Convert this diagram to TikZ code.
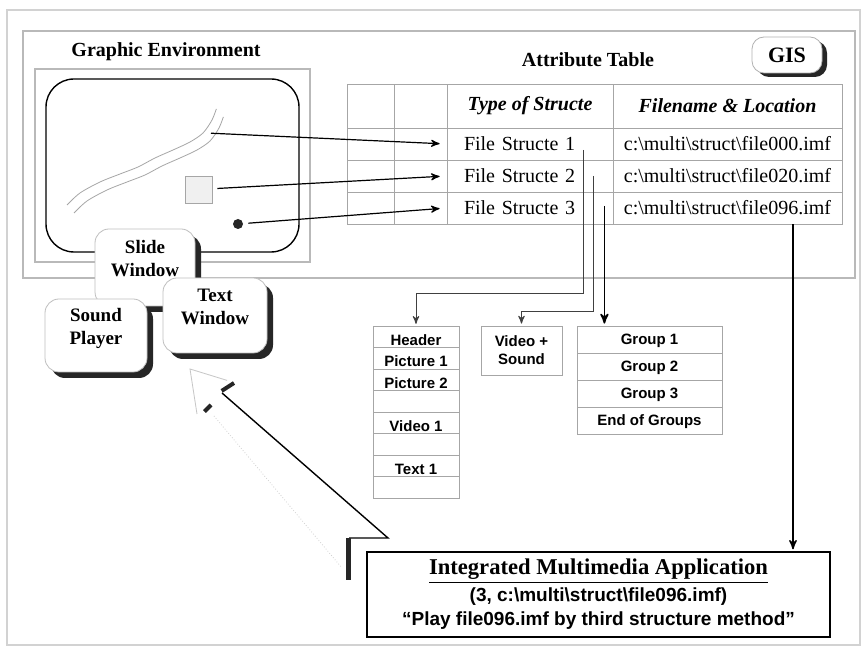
\documentclass[tikz,border=0pt]{standalone}
\usepackage{fontspec}
\setmainfont{Liberation Serif}
\setsansfont{Liberation Sans}
\usetikzlibrary{arrows,shadows}
\newcommand{\bksl}{\textbackslash}
\newcommand{\wintext}[2]{\raisebox{3.5pt}[\height][\depth]{\begin{tabular}{@{}c@{}}#1\\#2\end{tabular}}\hspace{5pt}}

\begin{document}
\begin{tikzpicture}[x=0.5pt,y=-0.5pt,>=stealth',shorten >=1pt,
	frame/.style={draw=gray!55,line width=0.6pt},
	cell/.style={draw=gray!70,inner sep=0pt,font=\fontsize{10}{12}\selectfont},
	hdcell/.style={cell,minimum height=22pt,font=\bfseries\itshape\fontsize{10}{12}\selectfont},
	win/.style={draw=gray!50,fill=white,rounded corners=7pt,inner sep=0pt,
		drop shadow={shadow xshift=3pt,shadow yshift=-3pt,fill=black!85,opacity=1},
		font=\bfseries\fontsize{9.5}{11.5}\selectfont},
	rec/.style={draw=gray!70,inner sep=0pt,minimum width=43pt,minimum height=10.75pt,
		node distance=10.75pt,text height=8.5pt,text depth=0pt,
		font=\sffamily\bfseries\fontsize{7.5}{9}\selectfont},
	grp/.style={rec,minimum width=72.5pt,minimum height=13.5pt,node distance=13.5pt,text height=5.5pt},
	link/.style={->,shorten >=3.5pt,shorten <=2.5pt,line width=0.6pt}]

\path[fill=white,use as bounding box] (0,0) rectangle (868,656);

% frames
\draw[frame,draw=gray!35] (7,10) rectangle (860,645);
\draw[frame] (23,31) rectangle (855,278);
\draw[frame] (35,69) rectangle (310,262);
\draw[line width=0.7pt,rounded corners=14pt] (46,79) rectangle (299,252);

\node[font=\bfseries\fontsize{10}{12}\selectfont] (ge) at (166,52) {Graphic Environment};
\node[font=\bfseries\fontsize{10}{12}\selectfont] (at) at (588,60) {Attribute Table};
\node[draw=gray!60,fill=white,rounded corners=6pt,minimum width=35pt,minimum height=18pt,
	drop shadow={shadow xshift=2.5pt,shadow yshift=-2pt,fill=black!85,opacity=1},
	font=\bfseries\fontsize{11}{13}\selectfont] (gis) at (787,55) {GIS};

% map objects
\draw[gray!70,thin] plot[smooth] coordinates {(67,205) (80,193) (100,182) (120,174) (138,167) (155,158) (173,150) (190,142) (203,133) (212,120) (217,107)};
\draw[gray!70,thin] plot[smooth] coordinates {(74,213) (87,201) (107,190) (127,182) (145,175) (162,166) (180,158) (197,150) (210,141) (219,128) (224,115)};
\coordinate (wv) at (206,133);
\node[draw=gray!70,fill=gray!12,minimum size=13.5pt,inner sep=0pt] (sq) at (198.5,189.5) {};
\node[circle,fill=black!85,minimum size=5pt,inner sep=0pt] (pt) at (238,224) {};

% attribute table
\node[hdcell,minimum width=23.5pt]   (h1) at (370.5,106)   {};
\node[hdcell,minimum width=26.5pt]   (h2) at (420.5,106)   {};
\node[hdcell,minimum width=83pt]     (ts) at (530,106)     {Type of Structe};
\node[hdcell,minimum width=114.5pt]  (fl) at (727.5,106)   {Filename \& Location};

\node[cell,minimum width=23.5pt,minimum height=16pt]  (a1) at (370.5,144) {};
\node[cell,minimum width=26.5pt,minimum height=16pt]  (b1) at (420.5,144) {};
\node[cell,minimum height=16pt,text width=66pt,inner xsep=8.5pt,align=left]  (fs1) at (530,144) {File Structe 1};
\node[cell,minimum width=114.5pt,minimum height=16pt] (fn1) at (727.5,144) {c:\bksl multi\bksl struct\bksl file000.imf};

\node[cell,minimum width=23.5pt,minimum height=16pt]  (a2) at (370.5,176) {};
\node[cell,minimum width=26.5pt,minimum height=16pt]  (b2) at (420.5,176) {};
\node[cell,minimum height=16pt,text width=66pt,inner xsep=8.5pt,align=left]  (fs2) at (530,176) {File Structe 2};
\node[cell,minimum width=114.5pt,minimum height=16pt] (fn2) at (727.5,176) {c:\bksl multi\bksl struct\bksl file020.imf};

\node[cell,minimum width=23.5pt,minimum height=16pt]  (a3) at (370.5,208) {};
\node[cell,minimum width=26.5pt,minimum height=16pt]  (b3) at (420.5,208) {};
\node[cell,minimum height=16pt,text width=66pt,inner xsep=8.5pt,align=left]  (fs3) at (530,208) {File Structe 3};
\node[cell,minimum width=114.5pt,minimum height=16pt] (fn3) at (727.5,208) {c:\bksl multi\bksl struct\bksl file096.imf};

\path[link] (wv) edge (fs1.west)
		(sq) edge (fs2.west)
		(pt) edge (fs3.west);

% structures
\node[rec]   (hd) at (416,337)    	{Header};
\node[rec]   (p1)[below of=hd]      	{Picture 1};
\node[rec]   (p2)[below of=p1]      	{Picture 2};
\node[rec]   (e1)[below of=p2]      	{};
\node[rec]   (v1)[below of=e1]      	{Video 1};
\node[rec]   (e2)[below of=v1]      	{};
\node[rec]   (t1)[below of=e2]      	{Text 1};
\node[rec]   (e3)[below of=t1]      	{};

\node[rec,minimum width=40.5pt,minimum height=24.5pt,text height=,text depth=,align=center] (vs) at (521.5,350.5) {Video +\\Sound};

\node[grp]   (g1) at (649.5,339.5)   {Group 1};
\node[grp]   (g2)[below of=g1]      	{Group 2};
\node[grp]   (g3)[below of=g2]      	{Group 3};
\node[grp]   (g4)[below of=g3]      	{End of Groups};

\coordinate (s1) at ([xshift=-15pt,yshift=-3pt]fs1.east);
\coordinate (s2) at ([xshift=-10pt]fs2.east);
\coordinate (s3) at ([xshift=-4.5pt,yshift=1pt]fs3.east);
\draw[->,black!75,line width=0.5pt] (s1) |- ([yshift=16pt]hd.north) -- (hd.north);
\draw[->,black!75,line width=0.5pt] (s2) |- ([yshift=7pt]vs.north) -- (vs.north);
\draw[->,line width=0.8pt] (s3) -- (s3 |- g1.north);

% application
\node[draw,line width=0.7pt,minimum width=231.5pt,minimum height=42.5pt,align=center,font=\bfseries] (app) at (598.5,594.5)
	{{\fontsize{11.3}{12}\selectfont\underline{Integrated Multimedia Application}}\\[1.5pt]
	{\sffamily\fontsize{9.5}{11}\selectfont (3, c:\bksl multi\bksl struct\bksl file096.imf)}\\
	{\sffamily\fontsize{9.5}{11}\selectfont “Play file096.imf by third structure method”}};

\coordinate (f3) at ([xshift=32.75pt]fn3.south);
\draw[->,line width=0.7pt] (f3) -- (f3 |- app.north);

% windows
\node[win,minimum width=50pt,minimum height=38.5pt]   (sw) at (145,267.5)   {\wintext{Slide}{Window}};
\node[win,minimum width=51pt,minimum height=36.5pt]   (sp) at (96,335.5)    {\wintext{Sound}{Player}};
\node[win,minimum width=52pt,minimum height=37.5pt]   (tw) at (215,315.5)   {\wintext{Text}{Window}};

% pointer
\draw[gray!45,thin] (197,414) -- (190,369) -- (229,381);
\draw[black!85,line width=2pt] (234,383) -- (220,392);
\draw[black!85,line width=2pt] (211,405) -- (203,413);
\draw[line width=0.7pt] (222,393) -- (388,538) -- (347,538);
\draw[black!85,line width=2.5pt] (348,538) -- (348,582);
\draw[gray!35,densely dotted] (214,416) -- (342,568);

\end{tikzpicture}
\end{document}
